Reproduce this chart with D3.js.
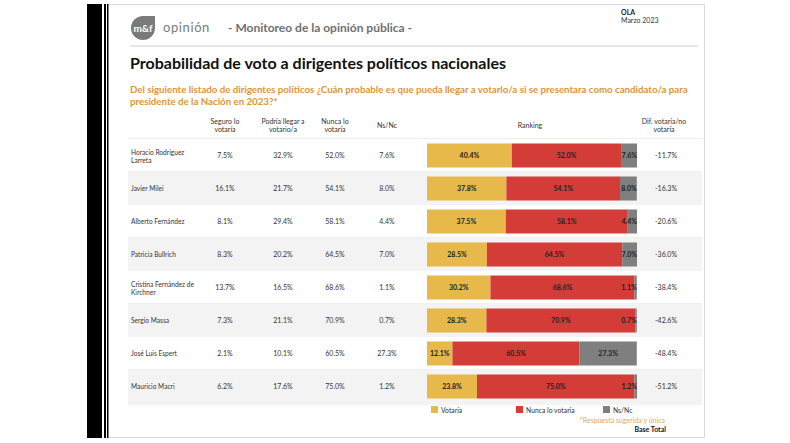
<!DOCTYPE html>
<html><head><meta charset="utf-8">
<script src="https://cdn.jsdelivr.net/npm/d3@7"></script>
<style>body{margin:0;background:#fff}svg{display:block;font-family:Lato,"Open Sans",sans-serif}</style>
</head><body><svg id="c" width="790" height="443"></svg>
<script>
const names = [["Horacio Rodríguez","Larreta"],["Javier Milei"],["Alberto Fernández"],["Patricia Bullrich"],["Cristina Fernández de","Kirchner"],["Sergio Massa"],["José Luis Espert"],["Mauricio Macri"]];
const seguro = [7.5,16.1,8.1,8.3,13.7,7.3,2.1,6.2];
const podria = [32.9,21.7,29.4,20.2,16.5,21.1,10.1,17.6];
const nunca = [52.0,54.1,58.1,64.5,68.6,70.9,60.5,75.0];
const nsnc = [7.6,8.0,4.4,7.0,1.1,0.7,27.3,1.2];
const votaria = [40.4,37.8,37.5,28.5,30.2,28.3,12.1,23.8];
const dif = [-11.7,-16.3,-20.6,-36.0,-38.4,-42.6,-48.4,-51.2];
const seriesKeys = ["Votaría","Nunca lo  votaría","Ns/Nc"];
const colors = ["#E7B94B","#D43C38","#7F7F7F"];

const svg = d3.select("#c");
const fmt = v => v.toFixed(1) + "%";

// page frame
svg.append("rect").attr("x",87).attr("y",4).attr("width",15).attr("height",434).attr("fill","#000");
svg.append("rect").attr("x",104).attr("y",4).attr("width",2).attr("height",434).attr("fill","#000");
svg.append("rect").attr("x",107.5).attr("y",4.5).attr("width",597).attr("height",433).attr("fill","#fff").attr("stroke","#d9d9d9");
svg.append("rect").attr("x",107).attr("y",4).attr("width",1.5).attr("height",434).attr("fill","#000");

// header
svg.append("path").attr("d","M131,28 a12,12 0 1,0 24,0 L155,16 L143,16 a12,12 0 0,0 -12,12z").attr("fill","#7a7a7a");
svg.append("text").attr("x",143).attr("y",32).attr("text-anchor","middle").attr("fill","#fff").attr("font-size",10).attr("font-weight",700).text("m&f");
svg.append("text").attr("x",163).attr("y",32).attr("fill","#7a7a7a").attr("font-size",13).attr("letter-spacing",0.6).text("opinión");
svg.append("text").attr("x",228).attr("y",32).attr("fill","#6f6f6f").attr("font-size",12).attr("font-weight",700).text("- Monitoreo de la opinión pública -");
svg.append("text").attr("x",621).attr("y",15).attr("fill","#222").attr("font-size",7).attr("font-weight",700).text("OLA");
svg.append("text").attr("x",621).attr("y",23).attr("fill","#333").attr("font-size",7).text("Marzo 2023");
svg.append("line").attr("x1",130).attr("x2",698).attr("y1",46).attr("y2",46).attr("stroke","#cfcfcf");

svg.append("text").attr("x",130).attr("y",69).attr("fill","#111").attr("font-size",16).attr("font-weight",700).text("Probabilidad de voto a dirigentes políticos nacionales");
const sub = svg.append("text").attr("fill","#D9963A").attr("font-size",9.7).attr("font-weight",700);
sub.append("tspan").attr("x",130).attr("y",93).text("Del siguiente listado de dirigentes políticos ¿Cuán probable es que pueda llegar a votarlo/a si se presentara como candidato/a para");
sub.append("tspan").attr("x",130).attr("y",105).text("presidente de la Nación en 2023?*");

// column headers
const headers = [[225,["Seguro lo","votaría"]],[283,["Podría llegar a","votario/a"]],[335,["Nunca lo","votaría"]],[387,["Ns/Nc"]],[530,["Ranking"]],[664,["Dif. votaría/no","votaría"]]];
headers.forEach(([x,lines])=>{
  const t = svg.append("text").attr("text-anchor","middle").attr("font-size",7).attr("fill","#333");
  const y0 = lines.length===2 ? 124 : 128;
  lines.forEach((l,i)=>t.append("tspan").attr("x",x).attr("y",y0+i*8).text(l));
});

// rows
const y = d3.scaleBand().domain(d3.range(names.length)).range([139,403]).paddingInner(0);
const x = d3.scaleLinear().domain([0,100]).range([427,637]);
svg.append("line").attr("x1",128).attr("x2",702).attr("y1",138.5).attr("y2",138.5).attr("stroke","#eee");
names.forEach((n,i)=>{
  if(i%2===1) svg.append("rect").attr("x",128).attr("y",y(i)).attr("width",574).attr("height",y.bandwidth()).attr("fill","#f3f3f3");
  else svg.append("line").attr("x1",128).attr("x2",702).attr("y1",y(i)+y.bandwidth()-0.5).attr("y2",y(i)+y.bandwidth()-0.5).attr("stroke","#f0f0f0");
});
svg.append("line").attr("x1",128).attr("x2",702).attr("y1",404).attr("y2",404).attr("stroke","#e8e8e8");

const cy = i => y(i)+y.bandwidth()/2;
names.forEach((n,i)=>{
  const t = svg.append("text").attr("font-size",6.6).attr("fill","#333");
  if(n.length===2){ n.forEach((l,k)=>t.append("tspan").attr("x",131).attr("y",cy(i)-1+k*8).text(l)); }
  else t.attr("x",131).attr("y",cy(i)+2.5).text(n[0]);
});
[[seguro,225],[podria,283],[nunca,335],[nsnc,387]].forEach(([arr,cx])=>{
  arr.forEach((v,i)=>svg.append("text").attr("x",cx).attr("y",cy(i)+2.5).attr("text-anchor","middle").attr("font-size",7).attr("fill","#333").text(fmt(v)));
});
dif.forEach((v,i)=>svg.append("text").attr("x",666).attr("y",cy(i)+2.5).attr("text-anchor","middle").attr("font-size",7).attr("fill","#333").text(fmt(v)));

// stacked bars
const rows = names.map((n,i)=>({i, "Votaría":votaria[i], "Nunca lo  votaría":nunca[i], "Ns/Nc":nsnc[i]}));
const stack = d3.stack().keys(seriesKeys)(rows);
const bh = 24;
stack.forEach((s,k)=>{
  const g = svg.append("g");
  s.forEach((d,i)=>{
    g.append("rect").attr("x",x(d[0])).attr("y",cy(i)-bh/2).attr("width",x(d[1])-x(d[0])).attr("height",bh).attr("fill",colors[k]);
  });
});
stack.forEach((s,k)=>{
  s.forEach((d,i)=>{
    const w = x(d[1])-x(d[0]);
    let tx = (x(d[0])+x(d[1]))/2, anchor="middle";
    if(w<20){ tx = x(d[1]); anchor="end"; }
    svg.append("text").attr("x",tx).attr("y",cy(i)+2.5).attr("text-anchor",anchor).attr("font-size",7).attr("font-weight",700).attr("fill","#222").text(fmt(d[1]-d[0]));
  });
});

// legend
const legX = [431,516,603];
seriesKeys.forEach((k,j)=>{
  svg.append("rect").attr("x",legX[j]).attr("y",406).attr("width",7).attr("height",7).attr("fill",colors[j]);
  svg.append("text").attr("x",legX[j]+10).attr("y",412.5).attr("font-size",6.8).attr("fill","#333").text(k);
});
svg.append("text").attr("x",665).attr("y",423).attr("text-anchor","end").attr("font-size",7).attr("fill","#E6A860").text("*Respuesta sugerida y única");
svg.append("text").attr("x",666).attr("y",432).attr("text-anchor","end").attr("font-size",7).attr("font-weight",700).attr("fill","#111").text("Base Total");
</script></body></html>
